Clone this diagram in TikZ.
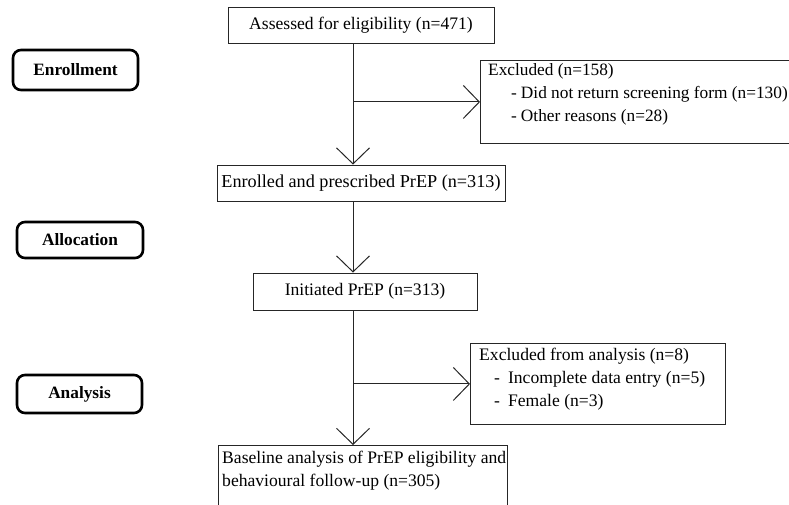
\documentclass[tikz,border=0pt]{standalone}
\usepackage{fontspec}
\setmainfont{Liberation Serif}
\usetikzlibrary{arrows.meta,positioning}

\begin{document}
\begin{tikzpicture}[x=1pt,y=-1pt,
  font=\fontsize{17.6}{23}\selectfont,
  box/.style={draw=black!85,line width=0.9pt,inner sep=0pt},
  stage/.style={draw=black,line width=2.6pt,rounded corners=8pt,inner sep=0pt,
    font=\fontsize{17.3}{20}\selectfont\bfseries},
  arr/.style={draw=black!85,line width=1pt,-{Straight Barb[length=16pt,width=33pt]}}]
  \useasboundingbox (0,0) rectangle (789,504);

  % stages on the left
  \node[stage,minimum width=125pt,minimum height=40pt] (enrolstage) at (75.5,70) {Enrollment};
  \node[stage,minimum width=126pt,minimum height=36pt] (allocstage) at (80,240) {Allocation};
  \node[stage,minimum width=125pt,minimum height=38pt] (anastage) at (79.5,394) {Analysis};

  % main flow
  \node[box,minimum width=266pt,minimum height=36pt] (assess) at (361,25) {Assessed for eligibility (n=471)};
  \node[box,minimum width=288pt,minimum height=36pt,font=\fontsize{18.2}{23}\selectfont] (enrol) at (361,183) {Enrolled and prescribed PrEP (n=313)};
  \node[box,minimum width=224pt,minimum height=37pt] (init) at (365,291.5) {Initiated PrEP (n=313)};
  \node[box,anchor=north west,minimum width=289pt,minimum height=85pt] (base) at (218,445) {};
  \node[anchor=north west,align=left,inner sep=0pt,below right=6pt and 4pt of base.north west] (basetxt)
    {Baseline analysis of PrEP eligibility and\\behavioural follow-up (n=305)};

  % exclusions
  \node[box,anchor=north west,minimum width=312pt,minimum height=83pt] (exc1) at (480,60) {};
  \node[anchor=north west,align=left,inner sep=0pt,below right=3pt and 8pt of exc1.north west,
    font=\fontsize{17.3}{23}\selectfont] (exc1txt)
    {Excluded (n=158)\\
     \hspace*{23pt}-\hspace{4pt}Did not return screening form (n=130)\\
     \hspace*{23pt}-\hspace{4pt}Other reasons (n=28)};
  \node[box,anchor=north west,minimum width=255pt,minimum height=81pt] (exc2) at (470,343) {};
  \node[anchor=north west,align=left,inner sep=0pt,below right=5pt and 9pt of exc2.north west] (exc2txt)
    {Excluded from analysis (n=8)\\
     \hspace*{15pt}-\hspace{8pt}Incomplete data entry (n=5)\\
     \hspace*{15pt}-\hspace{8pt}Female (n=3)};

  % connectors
  \coordinate (m) at (353,0);
  \draw[arr] (assess.south -| m) -- (enrol.north -| m);
  \draw[arr] (m |- exc1.west) -- (exc1.west);
  \draw[arr] (enrol.south -| m) -- (init.north -| m);
  \draw[arr] (init.south -| m) -- (base.north -| m);
  \draw[arr] (m |- exc2.west) -- (exc2.west);
\end{tikzpicture}
\end{document}
